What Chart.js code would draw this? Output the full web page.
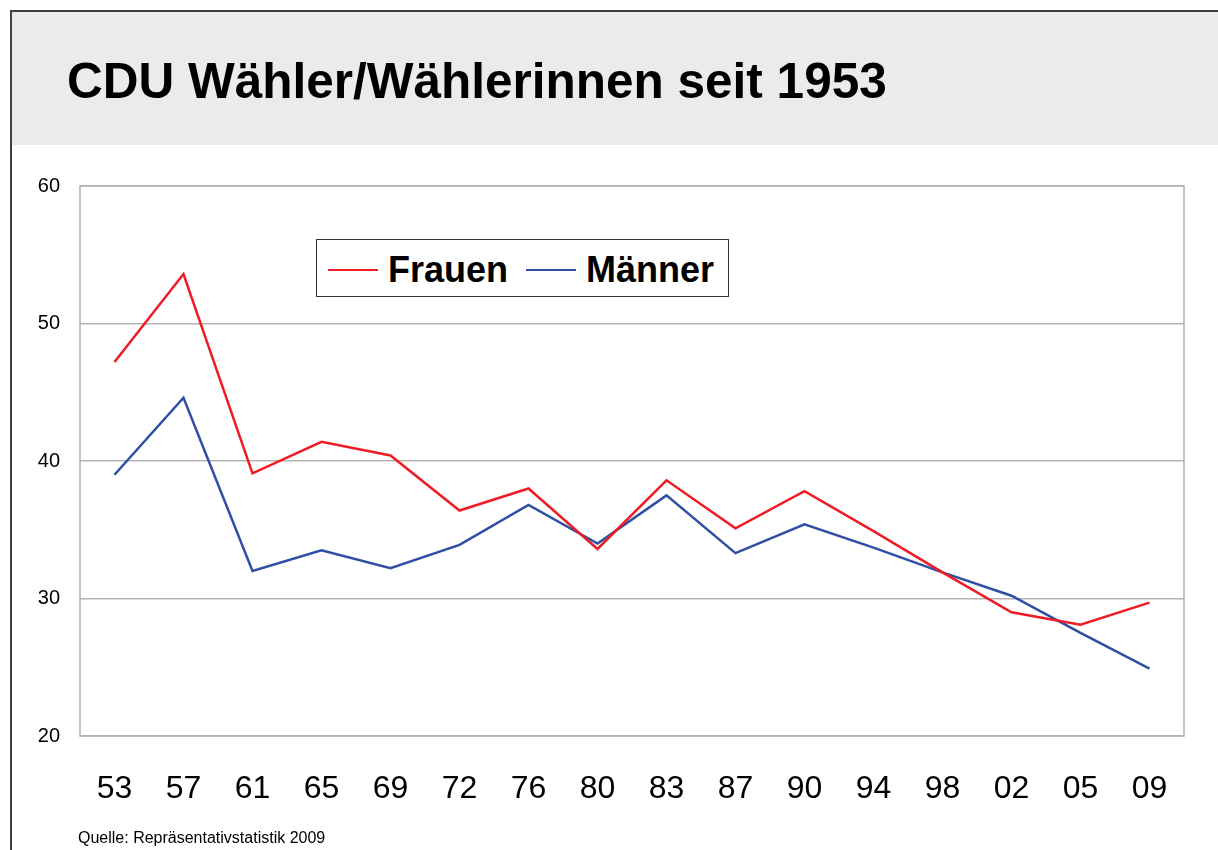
<!DOCTYPE html>
<html lang="de">
<head>
<meta charset="utf-8">
<title>CDU Wähler/Wählerinnen seit 1953</title>
<script src="https://cdn.jsdelivr.net/npm/chart.js@4/dist/chart.umd.min.js"></script>
<style>
  html, body { margin: 0; padding: 0; background: #fff; }
  body { width: 1218px; height: 850px; position: relative; overflow: hidden; font-family: "Liberation Sans", Arial, sans-serif; }
  .frame-top { position: absolute; left: 10px; top: 10px; right: 0; height: 0; border-top: 2px solid #404040; }
  .frame-left { position: absolute; left: 10px; top: 10px; bottom: 0; width: 0; border-left: 2px solid #404040; }
  .band { position: absolute; left: 12px; top: 12px; right: 0; height: 133px; background: #ebebeb; }
  .band h1 { position: absolute; left: 55px; top: 44px; margin: 0; font-size: 49.5px; font-weight: bold; color: #000; line-height: 1; }
  #chart-wrap { position: absolute; left: 0; top: 150px; width: 1218px; height: 700px; }
  .legend { position: absolute; left: 316px; top: 239px; width: 413px; height: 58px; border: 1.5px solid #333; background: #fff;
            display: flex; align-items: center; padding: 4px 0 0 11px; box-sizing: border-box; }
  .legend .item { display: flex; align-items: center; margin-right: 18px; }
  .legend .swatch { width: 50px; height: 0; border-top: 2.5px solid; margin-right: 10px; }
  .legend .label { font-size: 36px; font-weight: bold; color: #000; }
  .source { position: absolute; left: 78px; top: 829px; font-size: 16px; color: #000; }
</style>
</head>
<body>
  <div class="band"><h1>CDU Wähler/Wählerinnen seit 1953</h1></div>
  <div class="frame-top"></div>
  <div class="frame-left"></div>
  <div id="chart-wrap"><canvas id="voteChart" width="1218" height="700"></canvas></div>
  <div class="legend" id="legend"></div>
  <div class="source">Quelle: Repräsentativstatistik 2009</div>

<script>
// Wahljahre (Bundestagswahlen)
const years = ['53', '57', '61', '65', '69', '72', '76', '80', '83', '87', '90', '94', '98', '02', '05', '09'];

// CDU-Anteil in Prozent
const frauen = [47.2, 53.6, 39.1, 41.4, 40.4, 36.4, 38.0, 33.6, 38.6, 35.1, 37.8, 34.9, 31.9, 29.0, 28.1, 29.7];
const maenner = [39.0, 44.6, 32.0, 33.5, 32.2, 33.9, 36.8, 34.0, 37.5, 33.3, 35.4, 33.7, 31.9, 30.2, 27.5, 24.9];

// y axis ticks
const yMin = 20;
const yMax = 60;
const yStep = 10;

const seriesNames = ['Frauen', 'Männer'];
const seriesColors = ['#ee1c25', '#2e4fa3'];

// plot frame (right side isn't covered by grid lines)
const frameBorder = {
  id: 'frameBorder',
  afterDraw(chart) {
    const { ctx, chartArea } = chart;
    ctx.save();
    ctx.strokeStyle = '#b3b3b3';
    ctx.lineWidth = 1.5;
    ctx.strokeRect(chartArea.left, chartArea.top, chartArea.right - chartArea.left, chartArea.bottom - chartArea.top);
    ctx.restore();
  }
};

const chart = new Chart(document.getElementById('voteChart'), {
  type: 'line',
  data: {
    labels: years,
    datasets: [
      { label: seriesNames[0], data: frauen, borderColor: seriesColors[0], backgroundColor: seriesColors[0] },
      { label: seriesNames[1], data: maenner, borderColor: seriesColors[1], backgroundColor: seriesColors[1] }
    ]
  },
  options: {
    responsive: false,
    animation: false,
    layout: { padding: { top: 36, right: 34, left: 0, bottom: 0 } },
    elements: {
      line: { borderWidth: 2.5, tension: 0 },
      point: { radius: 0 }
    },
    plugins: {
      legend: { display: false },
      tooltip: { enabled: false }
    },
    scales: {
      x: {
        offset: true,
        grid: { display: false },
        border: { display: false },
        ticks: { color: '#000', font: { family: 'Liberation Sans', size: 32 }, padding: 26, maxRotation: 0, autoSkip: false },
        afterFit(scale) { scale.height = 114; }
      },
      y: {
        min: yMin,
        max: yMax,
        grid: { color: '#b3b3b3', lineWidth: 1.5, drawTicks: false },
        border: { display: false },
        ticks: { stepSize: yStep, color: '#000', font: { family: 'Liberation Sans', size: 20 }, padding: 20 },
        afterFit(scale) { scale.width = 80; }
      }
    }
  },
  plugins: [frameBorder]
});

// HTML legend built from the datasets
const legendEl = document.getElementById('legend');
chart.data.datasets.forEach(ds => {
  const item = document.createElement('div');
  item.className = 'item';
  item.innerHTML = `<span class="swatch" style="border-color:${ds.borderColor}"></span><span class="label">${ds.label}</span>`;
  legendEl.appendChild(item);
});
</script>
</body>
</html>
